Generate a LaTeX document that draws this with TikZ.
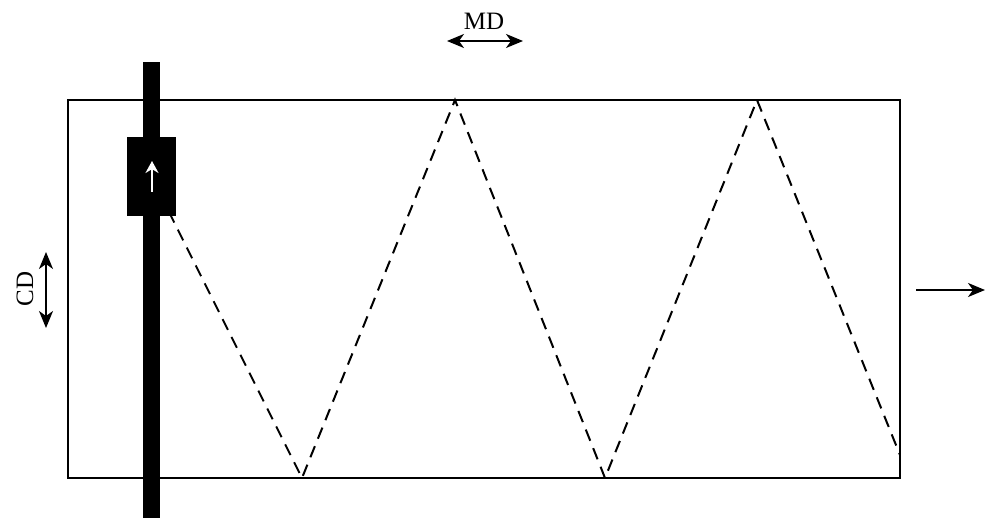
\documentclass[tikz,border=0pt]{standalone}
\usepackage{fontspec}
\setmainfont{Liberation Serif}
\usetikzlibrary{arrows.meta}

\begin{document}
\begin{tikzpicture}[
  x=0.5pt, y=-0.5pt,
  web/.style={line width=0.9pt},
  path line/.style={line width=1pt, dash pattern=on 6pt off 4pt},
  dir arrow/.style={line width=1pt, {Stealth[length=8.5pt, width=7pt, inset=2.5pt]}-{Stealth[length=8.5pt, width=7pt, inset=2.5pt]}},
  flow arrow/.style={line width=1pt, -{Stealth[length=8.5pt, width=7pt, inset=2.5pt]}},
  head arrow/.style={white, line width=1.4pt, -{Stealth[length=6pt, width=6.5pt]}},
  label/.style={font=\fontsize{12.5}{15}\selectfont, inner sep=0pt},
]
\useasboundingbox (0,0) rectangle (985,518);

% web
\draw[web] (68,100) rectangle (900,478);

% traverse path of the head
\coordinate (p0) at (151,176);
\coordinate (p1) at (302,478);
\coordinate (p2) at (455,100);
\coordinate (p3) at (605,478);
\coordinate (p4) at (757,100);
\coordinate (p5) at (900,455);
\draw[path line] (p0) -- (p1) -- (p2) -- (p3) -- (p4) -- (p5);

% traversing beam and head
\fill (143,62) rectangle (160,518);
\fill (127,137) rectangle (176,216);
\coordinate (h0) at (152,192);
\coordinate (h1) at (152,161);
\draw[head arrow] (h0) -- (h1);

% machine direction
\node[label] (md) at (484,21) {MD};
\coordinate (mdl) at (447,41);
\coordinate (mdr) at (523,41);
\draw[dir arrow] (mdl) -- (mdr);

% cross direction
\node[label, rotate=90] (cd) at (25,289) {CD};
\coordinate (cdt) at (46,252);
\coordinate (cdb) at (46,328);
\draw[dir arrow] (cdt) -- (cdb);

% web travel
\coordinate (out0) at (916,290);
\coordinate (out1) at (985,290);
\draw[flow arrow] (out0) -- (out1);

\end{tikzpicture}
\end{document}
